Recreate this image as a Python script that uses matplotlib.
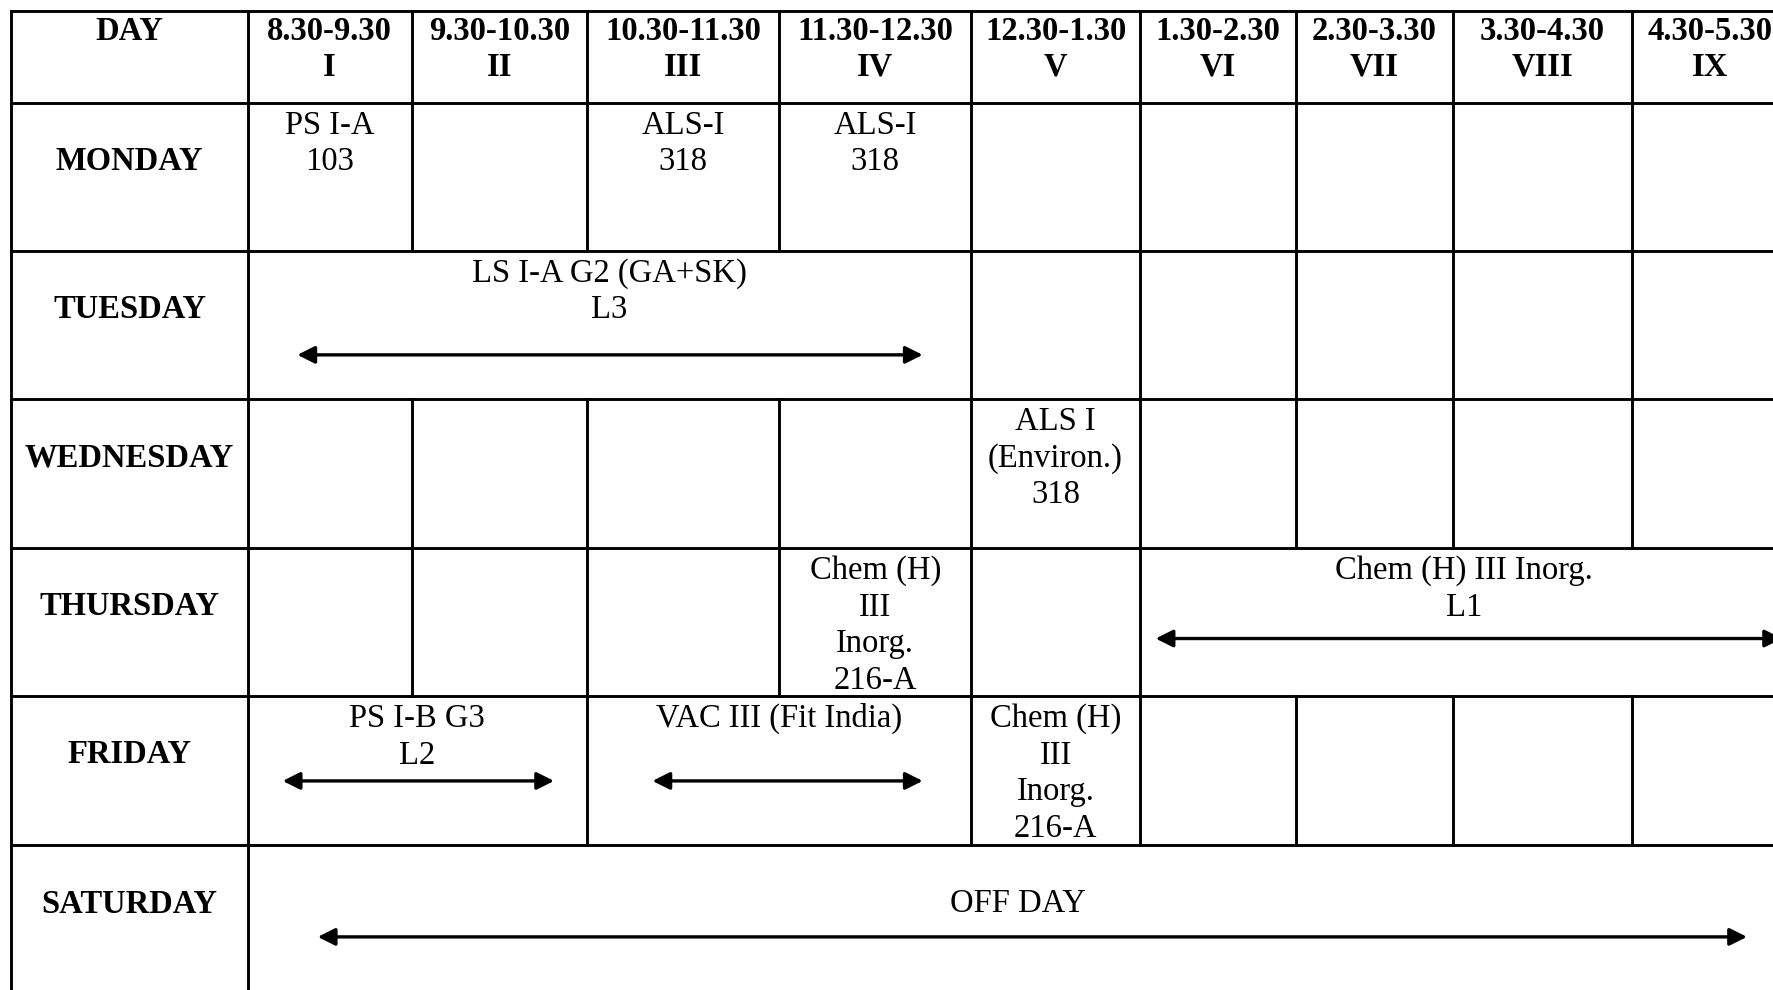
import matplotlib.pyplot as plt

# timetable data
days = ["MONDAY", "TUESDAY", "WEDNESDAY", "THURSDAY", "FRIDAY", "SATURDAY"]
times = ["8.30-9.30", "9.30-10.30", "10.30-11.30", "11.30-12.30", "12.30-1.30",
         "1.30-2.30", "2.30-3.30", "3.30-4.30", "4.30-5.30"]
periods = ["I", "II", "III", "IV", "V", "VI", "VII", "VIII", "IX"]

# (day index, first period, last period, text lines, has arrow)
classes = [
    (0, 0, 0, ["PS I-A", "103"], False),
    (0, 2, 2, ["ALS-I", "318"], False),
    (0, 3, 3, ["ALS-I", "318"], False),
    (1, 0, 3, ["LS I-A G2 (GA+SK)", "L3"], True),
    (2, 4, 4, ["ALS I", "(Environ.)", "318"], False),
    (3, 3, 3, ["Chem (H)", "III", "Inorg.", "216-A"], False),
    (3, 5, 8, ["Chem (H) III Inorg.", "L1"], True),
    (4, 0, 1, ["PS I-B G3", "L2"], True),
    (4, 2, 3, ["VAC III (Fit India)"], True),
    (4, 4, 4, ["Chem (H)", "III", "Inorg.", "216-A"], False),
    (5, 0, 8, ["OFF DAY"], True),
]

# layout (canvas units, y downwards)
col_x = [10, 219, 364, 519, 689, 859, 1008, 1146, 1285, 1443, 1581]
row_y = [10, 91, 222, 353, 485, 616, 748, 879]
# arrow insets per spanning class: (left, right, y offset from row top), text top offset
arrow_layout = {
    3: (44, 43, 92, 20),
    6: (14, 5, 80, 20),
    7: (31, 29, 75, 20),
    8: (58, 43, 75, 20),
    10: (62, 36, 81, 52),
}
line_gap = 32.5
fs = 23.5

plt.rcParams['font.family'] = ['Liberation Serif', 'DejaVu Serif']

fig = plt.figure(figsize=(17.73, 9.90), dpi=100)
ax = fig.add_axes([0, 0, 1, 1])
ax.set_xlim(0, 1568)
ax.set_ylim(876, 0)
ax.axis('off')

lw = 2.1

# horizontal lines
for y in row_y:
    ax.plot([col_x[0], col_x[-1]], [y, y], color='black', lw=lw, solid_capstyle='projecting')

# vertical lines, skipping the inside of merged cells
for r in range(len(row_y) - 1):
    inner = set()
    if r > 0:
        for d, c0, c1, _, _ in classes:
            if d == r - 1:
                inner.update(range(c0 + 2, c1 + 2))
    for i, x in enumerate(col_x):
        if i in inner:
            continue
        ax.plot([x, x], [row_y[r], row_y[r + 1]], color='black', lw=lw, solid_capstyle='projecting')

# header
ax.text((col_x[0] + col_x[1]) / 2, 28, "DAY", ha='center', va='center', fontsize=fs, fontweight='bold')
for i, (t, p) in enumerate(zip(times, periods)):
    cx = (col_x[i + 1] + col_x[i + 2]) / 2
    ax.text(cx, 28, t, ha='center', va='center', fontsize=fs, fontweight='bold')
    ax.text(cx, 28 + line_gap - 1, p, ha='center', va='center', fontsize=fs, fontweight='bold')

# day labels
for r, d in enumerate(days):
    ax.text((col_x[0] + col_x[1]) / 2, row_y[r + 1] + 52, d, ha='center', va='center',
            fontsize=fs, fontweight='bold')

# class cells
for k, (d, c0, c1, lines, arrow) in enumerate(classes):
    left, right = col_x[c0 + 1], col_x[c1 + 2]
    top = row_y[d + 1]
    cx = (left + right) / 2
    t0 = arrow_layout[k][3] if k in arrow_layout else 20
    for j, s in enumerate(lines):
        ax.text(cx, top + t0 + j * line_gap, s, ha='center', va='center', fontsize=fs)
    if arrow:
        li, ri, yo, _ = arrow_layout[k]
        ax.annotate("", xy=(right - ri, top + yo), xytext=(left + li, top + yo),
                    arrowprops=dict(arrowstyle='<|-|>', color='black', lw=2.4,
                                    mutation_scale=26, shrinkA=0, shrinkB=0),
                    annotation_clip=False)

fig.savefig("out.png", dpi=100)
